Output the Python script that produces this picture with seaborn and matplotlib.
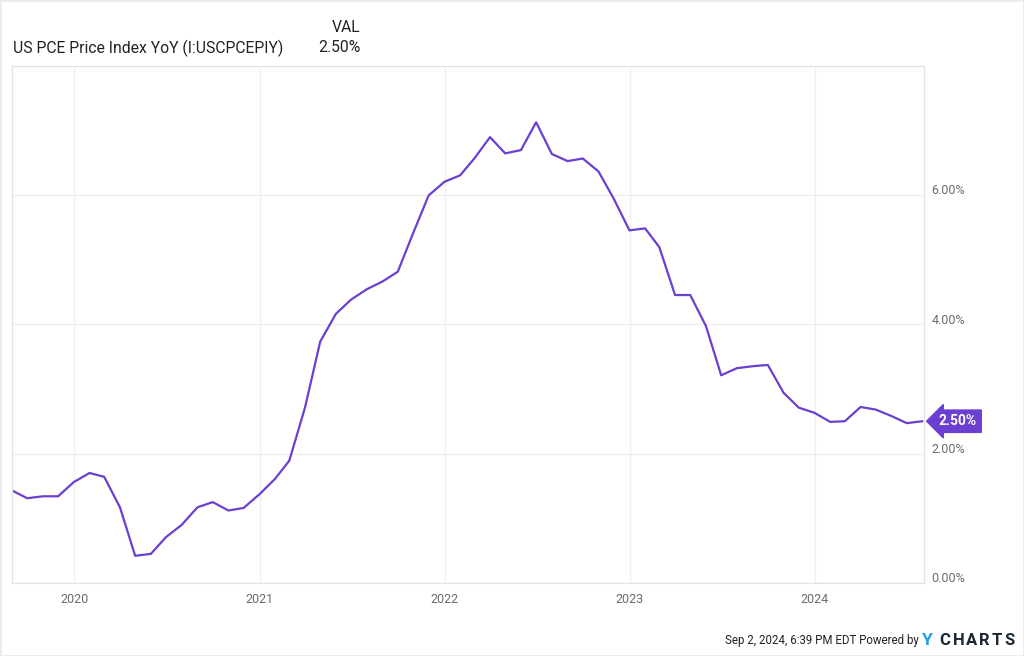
import pandas as pd
import numpy as np
import matplotlib.pyplot as plt
import matplotlib.dates as mdates
from matplotlib.transforms import ScaledTranslation
import seaborn as sns

# monthly values (month-end dates), Aug 2019 .. Jul 2024
start_month = '2019-08-31'
pce_yoy = [1.43, 1.31, 1.34, 1.34, 1.56,
           1.70, 1.64, 1.17, 0.42, 0.45, 0.71, 0.90, 1.17, 1.25, 1.12, 1.16, 1.37,
           1.61, 1.89, 2.71, 3.73, 4.16, 4.38, 4.54, 4.66, 4.81, 5.42, 5.99, 6.20,
           6.30, 6.56, 6.89, 6.64, 6.69, 7.12, 6.63, 6.52, 6.56, 6.36, 5.94, 5.45,
           5.48, 5.19, 4.45, 4.45, 3.97, 3.21, 3.32, 3.35, 3.37, 2.94, 2.71, 2.63,
           2.49, 2.50, 2.72, 2.68, 2.58, 2.47, 2.50]
year_ticks = ['2020', '2021', '2022', '2023', '2024']
y_ticks = [0, 2, 4, 6]
series_name = 'US PCE Price Index YoY (I:USCPCEPIY)'
last_label = '2.50%'
logo_letters = ['C', 'H', 'A', 'R', 'T', 'S']

line_color = '#6b3fd0'
grid_color = '#efefef'
text_gray = '#6b6b6b'

df = pd.DataFrame({
    'date': pd.date_range(start_month, periods=len(pce_yoy), freq='ME'),
    'value': pce_yoy,
})

sns.set_style('white')
plt.rcParams['font.family'] = ['Roboto', 'DejaVu Sans']

fig = plt.figure(figsize=(10.24, 6.56), dpi=100)
ax = fig.add_axes([0.0117, 0.1113, 0.8906, 0.7881])

sns.lineplot(data=df, x='date', y='value', ax=ax, color=line_color, lw=1.6)

ax.set_xlim(pd.Timestamp('2019-08-31'), pd.Timestamp('2024-07-31') + pd.Timedelta(days=3))
ax.set_ylim(0, 7.99)
ax.set_xticks([pd.Timestamp(y + '-01-01') for y in year_ticks])
ax.xaxis.set_major_formatter(mdates.DateFormatter('%Y'))
ax.set_yticks(y_ticks)
ax.set_yticklabels([f'{v:.2f}%' for v in y_ticks])
ax.yaxis.tick_right()
ax.tick_params(axis='both', length=0, colors=text_gray, labelsize=9)
ax.tick_params(axis='x', pad=7)
ax.tick_params(axis='y', pad=5.5)
for lab in ax.get_yticklabels():
    lab.set_horizontalalignment('left')
    lab.set_transform(lab.get_transform() + ScaledTranslation(0, 0.055, fig.dpi_scale_trans))
ax.grid(True, color=grid_color, lw=0.9)
for s in ax.spines.values():
    s.set_color('#e2e2e2')
    s.set_linewidth(0.9)
ax.set_xlabel('')
ax.set_ylabel('')

# last value tag, arrow tip just right of the plot edge
tag = ax.text(1.0, df['value'].iloc[-1], last_label,
              transform=ax.get_yaxis_transform(), ha='left', va='center',
              color='white', fontsize=10, fontweight='bold', clip_on=False,
              bbox=dict(boxstyle='larrow,pad=0.3', fc=line_color, ec=line_color))
tag.set_transform(tag.get_transform() + ScaledTranslation(0.15, 0, fig.dpi_scale_trans))

# header
fig.text(0.352, 0.958, 'VAL', ha='right', va='center', fontsize=11.3, color='#222222')
fig.text(0.0127, 0.927, series_name, ha='left', va='center', fontsize=11.3, color='#222222')
fig.text(0.352, 0.927, last_label, ha='right', va='center', fontsize=11.3, color='#222222')

# footer
fig.text(0.897, 0.024, 'Sep 2, 2024, 6:39 PM EDT Powered by', ha='right', va='center',
         fontsize=8.3, color='#222222')
fig.text(0.9005, 0.024, 'Y', ha='left', va='center', fontsize=12.5, fontweight='bold', color='#1e9fe3')
for i, ch in enumerate(logo_letters):
    fig.text(0.9175 + i * 0.0127, 0.024, ch, ha='left', va='center', fontsize=12,
             fontweight='bold', color='#1c2733')

fig.patch.set_edgecolor('#ececec')
fig.patch.set_linewidth(2)

plt.savefig('out.png', dpi=100, edgecolor=fig.get_edgecolor())
